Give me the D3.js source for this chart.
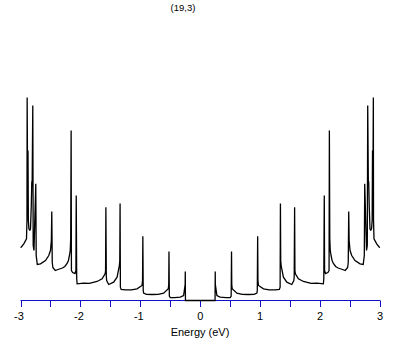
<!DOCTYPE html>
<html>
<head>
<meta charset="utf-8">
<script src="https://cdn.jsdelivr.net/npm/d3@7"></script>
<style>
html,body{margin:0;padding:0;background:#fff;}
svg{display:block;}
</style>
</head>
<body>
<script>
// Chart title and axis
const chartTitle = "(19,3)";
const xAxisTitle = "Energy (eV)";
const xTickValues = [-3, -2, -1, 0, 1, 2, 3];
const xMinorTickValues = [-2.5, -1.5, -0.5, 0.5, 1.5, 2.5];

// Density of states curve (energy in eV, DOS in arbitrary units)
const energyEv = [
  -3.0, -2.988, -2.945, -2.90, -2.892, -2.889, -2.882, -2.875, -2.869, -2.86, -2.845, -2.833, -2.82, -2.812, -2.805, -2.795,
  -2.788, -2.775, -2.745, -2.738, -2.72, -2.667, -2.583, -2.528, -2.50, -2.485, -2.478,
  -2.47, -2.46, -2.42, -2.35, -2.30, -2.26, -2.222, -2.20, -2.183, -2.17, -2.162, -2.155,
  -2.15, -2.13, -2.09, -2.075, -2.07,
  -2.062, -2.055, -1.945, -1.85, -1.722, -1.638, -1.588, -1.580, -1.575,
  -1.568, -1.562, -1.528, -1.445, -1.388, -1.35, -1.343, -1.338,
  -1.333, -1.32, -1.25, -1.15, -1.055, -0.972, -0.963, -0.958,
  -0.952, -0.945, -0.90, -0.80, -0.70, -0.611, -0.533, -0.526, -0.522,
  -0.516, -0.50, -0.43, -0.333, -0.278, -0.258, -0.252, -0.25,
  -0.247, 0.0, 0.247,
  0.25, 0.252, 0.258, 0.278, 0.333, 0.43, 0.50, 0.516,
  0.522, 0.526, 0.533, 0.611, 0.70, 0.80, 0.90, 0.945, 0.952,
  0.958, 0.963, 0.972, 1.055, 1.15, 1.25, 1.32, 1.333,
  1.338, 1.343, 1.35, 1.388, 1.445, 1.528, 1.562, 1.568,
  1.575, 1.580, 1.588, 1.638, 1.722, 1.85, 1.945, 2.055, 2.062,
  2.07, 2.075, 2.09, 2.13, 2.15,
  2.155, 2.162, 2.17, 2.183, 2.20, 2.222, 2.26, 2.30, 2.35, 2.42, 2.46, 2.47,
  2.478, 2.485, 2.50, 2.528, 2.583, 2.667, 2.72, 2.738, 2.745,
  2.775, 2.788, 2.795, 2.805, 2.812, 2.82, 2.833, 2.845, 2.86, 2.869, 2.875, 2.882, 2.889, 2.892, 2.90, 2.945, 2.988, 3.0
];
const dosValues = [
  0.53, 0.533, 0.567, 0.617, 0.80, 2.03, 1.20, 1.50, 0.80, 0.72, 0.70, 0.717, 0.95, 1.18, 1.20, 1.95,
  0.55, 0.50, 1.167, 0.45, 0.36, 0.367, 0.40, 0.45, 0.50, 0.60, 0.89,
  0.38, 0.33, 0.30, 0.315, 0.325, 0.34, 0.37, 0.40, 0.45, 0.50, 0.62, 1.70,
  0.30, 0.28, 0.27, 0.30, 1.05,
  0.22, 0.167, 0.173, 0.172, 0.19, 0.217, 0.267, 0.30, 0.933,
  0.24, 0.20, 0.16, 0.183, 0.233, 0.35, 0.40, 0.97,
  0.133, 0.11, 0.106, 0.107, 0.117, 0.15, 0.20, 0.643,
  0.10, 0.075, 0.062, 0.06, 0.062, 0.073, 0.117, 0.16, 0.49,
  0.045, 0.03, 0.028, 0.033, 0.05, 0.133, 0.16, 0.29,
  0.0, 0.0, 0.0,
  0.29, 0.16, 0.133, 0.05, 0.033, 0.028, 0.03, 0.045,
  0.49, 0.16, 0.117, 0.073, 0.062, 0.06, 0.062, 0.075, 0.10,
  0.643, 0.20, 0.15, 0.117, 0.107, 0.106, 0.11, 0.133,
  0.97, 0.40, 0.35, 0.233, 0.183, 0.16, 0.20, 0.24,
  0.933, 0.30, 0.267, 0.217, 0.19, 0.172, 0.173, 0.167, 0.22,
  1.05, 0.30, 0.27, 0.28, 0.30,
  1.70, 0.62, 0.50, 0.45, 0.40, 0.37, 0.34, 0.325, 0.315, 0.30, 0.33, 0.38,
  0.89, 0.60, 0.50, 0.45, 0.40, 0.367, 0.36, 0.45, 1.167,
  0.50, 0.55, 1.95, 1.20, 1.18, 0.95, 0.717, 0.70, 0.72, 0.80, 1.50, 1.20, 2.03, 0.80, 0.617, 0.567, 0.533, 0.53
];

const W = 409, H = 345;
const svg = d3.select("body").append("svg").attr("width", W).attr("height", H);

const x = d3.scaleLinear().domain([-3, 3]).range([20.5, 380]);
const y = d3.scaleLinear().domain([0, 2.1]).range([300.5, 90.5]);

const axisColor = "#1010c8";

// axis line
svg.append("line")
  .attr("x1", x(-3)).attr("x2", x(3))
  .attr("y1", y(0)).attr("y2", y(0))
  .attr("stroke", axisColor).attr("stroke-width", 1);

// ticks
const allTicks = xTickValues.concat(xMinorTickValues);
svg.append("g").selectAll("line").data(allTicks).join("line")
  .attr("x1", d => Math.round(x(d)) + 0.5).attr("x2", d => Math.round(x(d)) + 0.5)
  .attr("y1", y(0)).attr("y2", y(0) + 6.5)
  .attr("stroke", axisColor).attr("stroke-width", 1);

// tick labels
svg.append("g").selectAll("text").data(xTickValues).join("text")
  .attr("x", d => x(d) + (d < 0 ? -1.5 : 0))
  .attr("y", 320)
  .attr("text-anchor", "middle")
  .attr("font-family", "'Liberation Sans', Arial, sans-serif")
  .attr("font-size", 11)
  .attr("fill", "#000")
  .text(d => d < 0 ? "-" + Math.abs(d) : String(d));

// axis title
svg.append("text")
  .attr("x", 200).attr("y", 335.5)
  .attr("text-anchor", "middle")
  .attr("font-family", "'Liberation Sans', Arial, sans-serif")
  .attr("font-size", 11)
  .attr("fill", "#000")
  .text(xAxisTitle);

// chart title
svg.append("text")
  .attr("x", 183).attr("y", 10.5)
  .attr("text-anchor", "middle")
  .attr("font-family", "'Liberation Sans', Arial, sans-serif")
  .attr("font-size", 9.5)
  .attr("fill", "#000")
  .text(chartTitle);

// DOS curve
const pts = energyEv.map((e, i) => [e, dosValues[i]]);
const line = d3.line().x(d => x(d[0])).y(d => y(d[1]));
svg.append("path")
  .datum(pts)
  .attr("d", line)
  .attr("fill", "none")
  .attr("stroke", "#000")
  .attr("stroke-width", 1.3)
  .attr("stroke-linejoin", "miter")
  .attr("stroke-miterlimit", 2);
</script>
</body>
</html>
